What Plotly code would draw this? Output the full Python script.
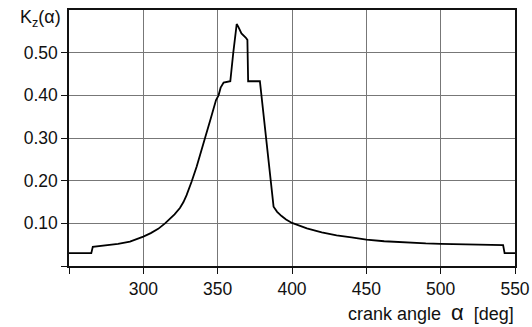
import plotly.graph_objects as go

angle = [250, 265, 266, 275, 283, 291, 296, 300, 305, 310, 314.6, 318, 321, 324.6, 327, 329.1,
         331, 332.5, 335.9, 338.8, 341.5, 345.3, 348.9, 350.6, 352, 354, 358.5, 360.5, 362.8,
         364, 366, 369, 370, 370.5, 378.4, 387.6, 390, 393, 396, 400, 405, 410, 420, 430,
         440, 450, 462, 475, 490, 500, 520, 542, 543, 550]
kz = [0.03, 0.03, 0.045, 0.048, 0.052, 0.057, 0.063, 0.069, 0.077, 0.087, 0.10, 0.111, 0.121,
      0.136, 0.150, 0.166, 0.183, 0.198, 0.233, 0.265, 0.30, 0.345, 0.389, 0.40, 0.418, 0.43,
      0.433, 0.50, 0.567, 0.56, 0.545, 0.535, 0.53, 0.433, 0.433, 0.139, 0.127, 0.117,
      0.109, 0.101, 0.094, 0.088, 0.079, 0.072, 0.067, 0.062, 0.058, 0.055, 0.053, 0.052,
      0.05, 0.049, 0.03, 0.03]

x_ticks = [250, 300, 350, 400, 450, 500, 550]
x_labels = ["", "300", "350", "400", "450", "500", "550"]
y_ticks = [0, 0.1, 0.2, 0.3, 0.4, 0.5]
y_labels = ["", "0.10", "0.20", "0.30", "0.40", "0.50"]

fam = "Liberation Sans, Arial, sans-serif"
fig = go.Figure()
fig.add_trace(go.Scatter(x=angle, y=kz, mode="lines",
                         line=dict(color="black", width=1.8), showlegend=False))

grid = "#777"
axis_common = dict(showgrid=True, gridcolor=grid, gridwidth=1, showline=True,
                   linecolor="#111", linewidth=1.5, mirror=True, ticks="outside",
                   ticklen=6, tickcolor="#111", zeroline=False, automargin=False)
fig.update_layout(
    width=532, height=327, plot_bgcolor="white", paper_bgcolor="white",
    margin=dict(l=69, r=17, t=10, b=61),
    font=dict(family=fam, size=17.5, color="#111"),
    xaxis=dict(range=[250, 550], tickvals=x_ticks, ticktext=x_labels, **axis_common),
    yaxis=dict(range=[0, 0.6], tickvals=y_ticks, ticktext=y_labels, **axis_common),
)
fig.add_annotation(text="K<sub>z</sub>(α)", xref="paper", yref="paper", x=0, y=1,
                   xanchor="right", yanchor="middle", xshift=-6, yshift=-8, showarrow=False,
                   font=dict(family=fam, size=18, color="#111"))
fig.add_annotation(text="crank angle  <span style='font-size:22px'>α</span>  [deg]",
                   xref="paper", yref="paper", x=1, y=0,
                   xanchor="right", yanchor="top", yshift=-32, xshift=1, showarrow=False,
                   font=dict(family=fam, size=18, color="#111"))
fig.write_html("out.html", config={"displayModeBar": False},
               post_script="document.body.style.margin='0';document.body.style.overflow='hidden';")
